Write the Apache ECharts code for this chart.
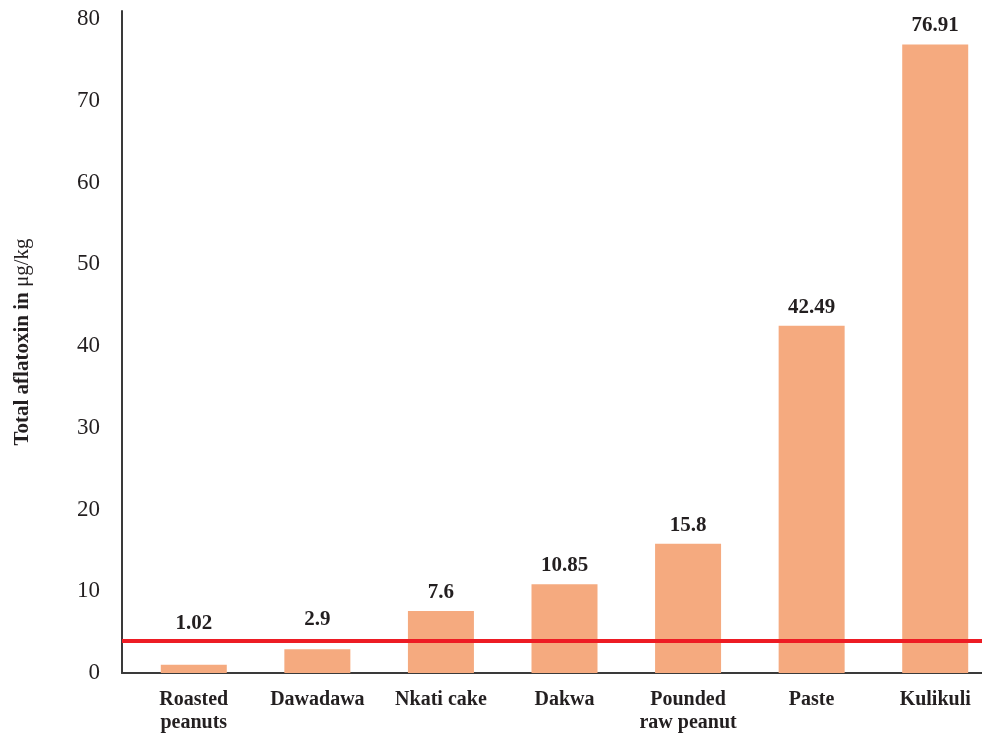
<!DOCTYPE html>
<html>
<head>
<meta charset="utf-8">
<script src="https://cdn.jsdelivr.net/npm/echarts@6/dist/echarts.min.js"></script>
<style>
  html, body { margin: 0; padding: 0; background: #fff; }
  #chart { width: 982px; height: 734px; }
</style>
</head>
<body>
<div id="chart"></div>
<script>
// data
const categories = ['Roasted\npeanuts', 'Dawadawa', 'Nkati cake', 'Dakwa', 'Pounded\nraw peanut', 'Paste', 'Kulikuli'];
const aflatoxin = [1.02, 2.9, 7.6, 10.85, 15.8, 42.49, 76.91];
const limitValue = 4; // red reference line
const yTicks = [0, 10, 20, 30, 40, 50, 60, 70, 80];

const textColor = '#231F20';
const font = 'Liberation Serif';

// the two smallest bars carry their labels above the red line
const labelDistance = [31, 19, 8, 8, 8, 8, 8];

const chart = echarts.init(document.getElementById('chart'));

chart.setOption({
  animation: false,
  grid: [
    // bars
    { left: 132, width: 865, top: 11, bottom: 61, outerBoundsMode: 'none' },
    // axes frame + limit line
    { left: 122, right: 0, top: 11, bottom: 61, outerBoundsMode: 'none' }
  ],
  xAxis: [
    {
      gridIndex: 0,
      type: 'category',
      data: categories,
      axisLine: { show: false },
      axisTick: { show: false },
      axisLabel: {
        color: textColor,
        fontFamily: font,
        fontWeight: 'bold',
        fontSize: 20,
        lineHeight: 23,
        margin: 15,
        interval: 0
      }
    },
    {
      gridIndex: 1,
      type: 'value',
      min: 0,
      max: 1,
      axisLine: { show: true, lineStyle: { color: '#3a3a3a', width: 2 } },
      axisTick: { show: false },
      axisLabel: { show: false },
      splitLine: { show: false }
    }
  ],
  yAxis: [
    {
      gridIndex: 0,
      type: 'value',
      min: 0,
      max: 81,
      show: false,
      splitLine: { show: false }
    },
    {
      gridIndex: 1,
      type: 'value',
      min: 0,
      max: 81,
      interval: 10,
      name: '{b|Total aflatoxin in} {n|μg/kg}',
      nameLocation: 'middle',
      nameGap: 89,
      nameTextStyle: {
        color: textColor,
        fontFamily: font,
        fontSize: 21,
        rich: {
          b: { fontFamily: font, fontWeight: 'bold', fontSize: 21, color: textColor },
          n: { fontFamily: font, fontSize: 21, color: textColor }
        }
      },
      axisLine: { show: true, lineStyle: { color: '#3a3a3a', width: 2 } },
      axisTick: { show: false },
      splitLine: { show: false },
      axisLabel: {
        color: textColor,
        fontFamily: font,
        fontSize: 23,
        margin: 22,
        showMaxLabel: false,
        formatter: v => (yTicks.includes(v) ? String(v) : '')
      }
    }
  ],
  series: [
    {
      type: 'bar',
      xAxisIndex: 0,
      yAxisIndex: 0,
      barWidth: 66,
      itemStyle: { color: '#F5AA7F' },
      data: aflatoxin.map((v, i) => ({
        value: v,
        label: { distance: labelDistance[i] }
      })),
      label: {
        show: true,
        position: 'top',
        color: textColor,
        fontFamily: font,
        fontWeight: 'bold',
        fontSize: 21
      },
      z: 2
    },
    {
      type: 'line',
      xAxisIndex: 1,
      yAxisIndex: 1,
      data: [],
      silent: true,
      z: 5,
      markLine: {
        symbol: 'none',
        silent: true,
        label: { show: false },
        lineStyle: { color: '#ED1C24', width: 4, type: 'solid' },
        data: [{ yAxis: limitValue }]
      }
    }
  ]
});
</script>
</body>
</html>
